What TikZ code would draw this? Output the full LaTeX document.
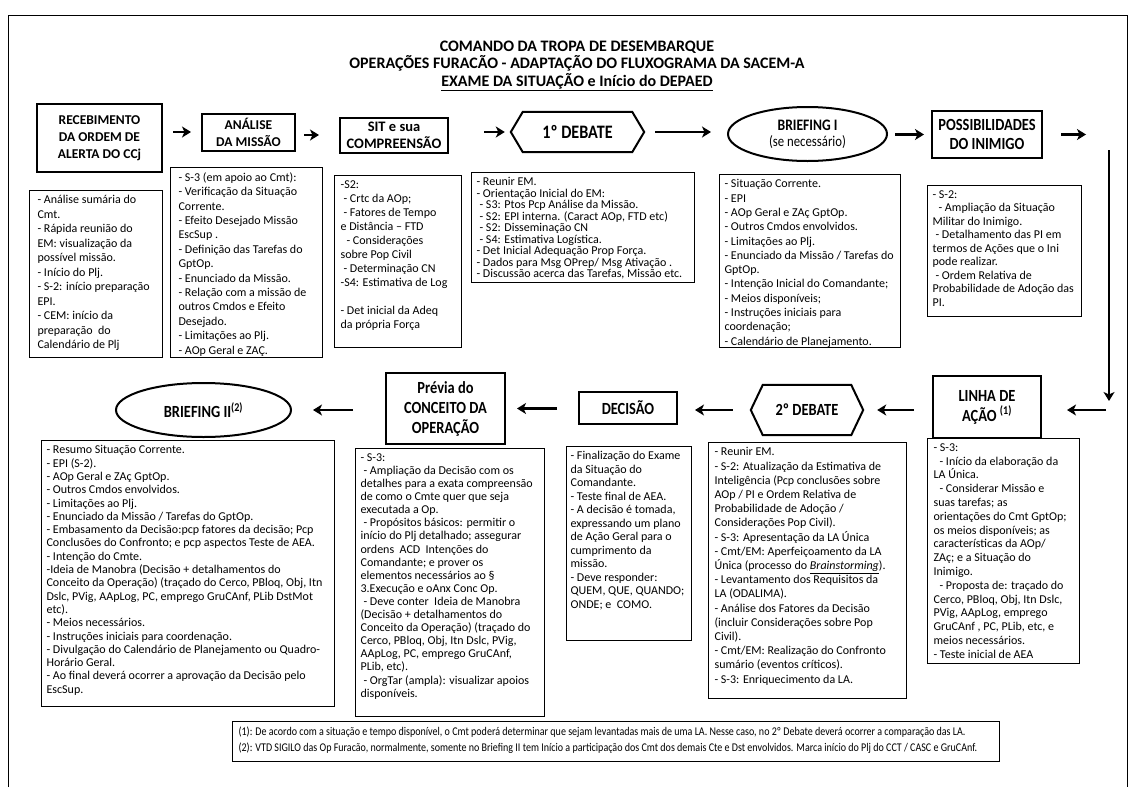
\documentclass[tikz,border=0pt]{standalone}
\usepackage{fontspec}
\setmainfont{Carlito}
\newfontfamily\narrowfam[FakeStretch=0.85]{Carlito}
\usetikzlibrary{arrows.meta,shapes.geometric}

\newcommand\titlefont{\fontsize{16}{17.5}\selectfont\bfseries}
\newcommand\hdrfont{\fontsize{13.5}{17}\selectfont\bfseries}
\newcommand\lowfont{\narrowfam\fontsize{17}{20}\selectfont\bfseries}
\newcommand\bodyfont{\fontsize{12}{13.3}\selectfont}
\newcommand\lsp[1]{\fontsize{12}{#1}\selectfont}
\newcommand\indsp{\hspace*{3pt}}
\newcommand\boxtext[3]{\parbox[t][#2pt][t]{#1pt}{\raggedright #3}}

\tikzset{
  hdr/.style={draw, line width=2pt, align=center, inner sep=0pt, font=\hdrfont},
  low/.style={draw, line width=2pt, align=center, inner sep=0pt, font=\lowfont},
  hexnode/.style={align=center, inner sep=0pt},
  hexline/.style={line width=2pt, line join=miter},
  tbox/.style={draw, line width=1.2pt, inner ysep=5pt, anchor=north west, font=\bodyfont},
  arr/.style={line width=2.6pt, -{Stealth[length=9pt,width=11pt,inset=2.5pt]}},
  frame/.style={line width=1pt},
}

\begin{document}
\begin{tikzpicture}[x=1pt,y=-1pt]
\useasboundingbox (0,0) rectangle (1134,787);
\fill[white] (0,0) rectangle (1134,787);
\draw[frame] (8,787) -- (8,15) -- (1127,15) -- (1127,787);

% title
\node[font=\titlefont, align=center] (title) at (577,66)
  {COMANDO DA TROPA DE DESEMBARQUE\\
   OPERAÇÕES FURACÃO - ADAPTAÇÃO DO FLUXOGRAMA DA SACEM-A\\
   \underline{EXAME DA SITUAÇÃO e Início do DEPAED}};

% ---------- first row of steps ----------
\node[hdr, minimum width=125, minimum height=68] (rec) at (99.5,138)
  {RECEBIMENTO\\DA ORDEM DE\\ALERTA DO CCj};
\node[hdr, minimum width=93, minimum height=37] (ana) at (248.5,132)
  {ANÁLISE\\DA MISSÃO};
\node[hdr, font=\fontsize{14.5}{17}\selectfont\bfseries, minimum width=108, minimum height=35] (sit) at (394,135)
  {SIT e sua\\COMPREENSÃO};
\node[hexnode, font=\narrowfam\fontsize{19}{20}\selectfont\bfseries, minimum width=133, minimum height=40] (deb1) at (577.5,132)
  {1º DEBATE};
\draw[hexline] (deb1.west) -- ([xshift=12pt]deb1.north west) -- ([xshift=-12pt]deb1.north east)
  -- (deb1.east) -- ([xshift=-12pt]deb1.south east) -- ([xshift=12pt]deb1.south west) -- cycle;
\node[ellipse, draw, line width=2pt, inner sep=0pt, minimum width=159, minimum height=54, align=center] (bri1) at (807.5,134)
  {{\narrowfam\fontsize{16}{17}\selectfont\bfseries BRIEFING I}\\[4pt]
   {\narrowfam\fontsize{15}{17}\selectfont (se necessário)}};
\node[hdr, font=\narrowfam\fontsize{17}{19}\selectfont\bfseries, minimum width=110, minimum height=47] (poss) at (987,134.5)
  {POSSIBILIDADES\\DO INIMIGO};

\coordinate (rend) at (1086,134.5);
\coordinate (vtop) at (1109,150);
\coordinate (vbot) at (1109,401);
\coordinate (lstart) at (1106,410);

\draw[arr, shorten <=10pt, shorten >=10pt] (rec.east |- ana.west) -- (ana.west);
\draw[arr, shorten <=8pt, shorten >=20pt] (ana.east |- sit.west) -- (sit.west);
\draw[arr, shorten <=35pt, shorten >=6pt] (sit.east |- deb1.west) -- (deb1.west);
\draw[arr, shorten <=11pt, shorten >=16pt] (deb1.east) -- (deb1.east -| bri1.west);
\draw[arr, shorten <=7pt, shorten >=7pt] (bri1.east |- poss.west) -- (poss.west);
\draw[arr, shorten <=18pt] (poss.east |- rend) -- (rend);
\draw[arr] (vtop) -- (vbot);

% ---------- texts under the first row ----------
\node[tbox, inner xsep=8pt] (t1) at (29,190) {\boxtext{116.8}{156.8}{\lsp{14.5}%
- Análise sumária do\\
Cmt.\\
- Rápida reunião do\\
EM: visualização da\\
possível missão.\\
- Início do Plj.\\
- S-2: início preparação\\
EPI.\\
- CEM: início da\\
preparação\ \ do\\
Calendário de Plj}};

\node[tbox, inner xsep=8pt] (t2) at (170,167) {\boxtext{135.8}{179.8}{\lsp{14.4}%
- S-3 (em apoio ao Cmt):\\
- Verificação da Situação\\
Corrente.\\
- Efeito Desejado Missão\\
EscSup .\\
- Definição das Tarefas do\\
GptOp.\\
- Enunciado da Missão.\\
- Relação com a missão de\\
outros Cmdos e Efeito\\
Desejado.\\
- Limitações ao Plj.\\
- AOp Geral e ZAÇ.}};

\node[tbox, inner xsep=6pt] (t3) at (334,175) {\boxtext{114.8}{161.8}{\lsp{14}%
-S2:\\
\indsp- Crtc da AOp;\\
\indsp- Fatores de Tempo\\
e Distância – FTD\\
\indsp\indsp- Considerações\\
sobre Pop Civil\\
\indsp- Determinação CN\\
-S4: Estimativa de Log\\
\mbox{}\\
- Det inicial da Adeq\\
da própria Força}};

\node[tbox, inner xsep=5pt] (t4) at (471,172) {\boxtext{212.8}{99.8}{\lsp{11.5}%
- Reunir EM.\\
- Orientação Inicial do EM:\\
\indsp- S3: Ptos Pcp Análise da Missão.\\
\indsp- S2: EPI interna. (Caract AOp, FTD etc)\\
\indsp- S2: Disseminação CN\\
\indsp- S4: Estimativa Logística.\\
- Det Inicial Adequação Prop Força.\\
- Dados para Msg OPrep/ Msg Ativação .\\
- Discussão acerca das Tarefas, Missão etc.}};

\node[tbox, inner xsep=5pt] (t5) at (719,174) {\boxtext{170.8}{162.8}{\lsp{14.3}%
- Situação Corrente.\\
- EPI\\
- AOp Geral e ZAç GptOp.\\
- Outros Cmdos envolvidos.\\
- Limitações ao Plj.\\
- Enunciado da Missão / Tarefas do\\
GptOp.\\
- Intenção Inicial do Comandante;\\
- Meios disponíveis;\\
- Instruções iniciais para\\
coordenação;\\
- Calendário de Planejamento.}};

\node[tbox, inner xsep=5pt] (t6) at (927,185) {\boxtext{143.8}{120.8}{\lsp{13.5}%
- S-2:\\
\indsp\indsp- Ampliação da Situação\\
Militar do Inimigo.\\
\indsp- Detalhamento das PI em\\
termos de Ações que o Ini\\
pode realizar.\\
\indsp- Ordem Relativa de\\
Probabilidade de Adoção das\\
PI.}};

% ---------- second row of steps ----------
\node[ellipse, draw, line width=2pt, inner sep=0pt, minimum width=175, minimum height=54, font=\lowfont] (bri2) at (203.5,410)
  {BRIEFING II\textsuperscript{(2)}};
\node[low, minimum width=119, minimum height=71] (prev) at (445.5,408.5)
  {Prévia do\\CONCEITO DA\\OPERAÇÃO};
\node[low, minimum width=98, minimum height=32] (dec) at (628,408)
  {DECISÃO};
\node[hexnode, font=\lowfont, minimum width=112, minimum height=50] (deb2) at (807,410)
  {2º DEBATE};
\draw[hexline] (deb2.west) -- ([xshift=12pt]deb2.north west) -- ([xshift=-12pt]deb2.north east)
  -- (deb2.east) -- ([xshift=-12pt]deb2.south east) -- ([xshift=12pt]deb2.south west) -- cycle;
\node[low, minimum width=108, minimum height=62] (la) at (987,407)
  {LINHA DE\\AÇÃO \textsuperscript{(1)}};

\draw[arr, shorten >=25pt] (lstart) -- (lstart -| la.east);
\draw[arr, shorten <=18pt, shorten >=14pt] (la.west |- deb2.east) -- (deb2.east);
\draw[arr, shorten <=18pt, shorten >=17pt] (deb2.west) -- (deb2.west -| dec.east);
\draw[arr, shorten <=21pt, shorten >=11pt] (dec.west |- prev.east) -- (prev.east);
\draw[arr, shorten <=32pt, shorten >=21pt] (prev.west |- bri2.east) -- (bri2.east);

% ---------- texts under the second row ----------
\node[tbox, inner xsep=5pt] (t7) at (41,440) {\boxtext{282.8}{255.8}{\lsp{13.3}%
- Resumo Situação Corrente.\\
- EPI (S-2).\\
- AOp Geral e ZAç GptOp.\\
- Outros Cmdos envolvidos.\\
- Limitações ao Plj.\\
- Enunciado da Missão / Tarefas do GptOp.\\
- Embasamento da Decisão:pcp fatores da decisão; Pcp\\
Conclusões do Confronto; e pcp aspectos Teste de AEA.\\
- Intenção do Cmte.\\
-Ideia de Manobra (Decisão + detalhamentos do\\
Conceito da Operação) (traçado do Cerco, PBloq, Obj, Itn\\
Dslc, PVig, AApLog, PC, emprego GruCAnf, PLib DstMot\\
etc).\\
- Meios necessários.\\
- Instruções iniciais para coordenação.\\
- Divulgação do Calendário de Planejamento ou Quadro-\\
Horário Geral.\\
- Ao final deverá ocorrer a aprovação da Decisão pelo\\
EscSup.}};

\node[tbox, inner xsep=5pt] (t8) at (355,448) {\boxtext{178.8}{257.8}{\lsp{13.1}%
- S-3:\\
\indsp- Ampliação da Decisão com os\\
detalhes para a exata compreensão\\
de como o Cmte quer que seja\\
executada a Op.\\
\indsp- Propósitos básicos: permitir o\\
início do Plj detalhado; assegurar\\
ordens\ \ ACD\ \ Intenções do\\
Comandante; e prover os\\
elementos necessários ao §\\
3.Execução e oAnx Conc Op.\\
\indsp- Deve conter\ \ Ideia de Manobra\\
(Decisão + detalhamentos do\\
Conceito da Operação) (traçado do\\
Cerco, PBloq, Obj, Itn Dslc, PVig,\\
AApLog, PC, emprego GruCAnf,\\
PLib, etc).\\
\indsp- OrgTar (ampla): visualizar apoios\\
disponíveis.}};

\node[tbox, inner xsep=4pt] (t9) at (566,446) {\boxtext{116.8}{183.8}{\lsp{13.5}%
- Finalização do Exame\\
da Situação do\\
Comandante.\\
- Teste final de AEA.\\
- A decisão é tomada,\\
expressando um plano\\
de Ação Geral para o\\
cumprimento da\\
missão.\\
- Deve responder:\\
QUEM, QUE, QUANDO;\\
ONDE; e\ \ COMO.}};

\node[tbox, inner xsep=6pt] (t10) at (708,442) {\boxtext{185.8}{245.8}{\lsp{14.2}%
- Reunir EM.\\
- S-2: Atualização da Estimativa de\\
Inteligência (Pcp conclusões sobre\\
AOp / PI e Ordem Relativa de\\
Probabilidade de Adoção /\\
Considerações Pop Civil).\\
- S-3: Apresentação da LA Única\\
- Cmt/EM: Aperfeiçoamento da LA\\
Única (processo do \underline{\textit{Brainstorming}}).\\
- Levantamento dos Requisitos da\\
LA (ODALIMA).\\
- Análise dos Fatores da Decisão\\
(incluir Considerações sobre Pop\\
Civil).\\
- Cmt/EM: Realização do Confronto\\
sumário (eventos críticos).\\
- S-3: Enriquecimento da LA.}};

\node[tbox, inner xsep=6pt] (t12) at (927,438) {\boxtext{139.8}{214.8}{\lsp{13.8}%
- S-3:\\
\indsp\indsp- Início da elaboração da\\
LA Única.\\
\indsp\indsp- Considerar Missão e\\
suas tarefas; as\\
orientações do Cmt GptOp;\\
os meios disponíveis; as\\
características da AOp/\\
ZAç; e a Situação do\\
Inimigo.\\
\indsp\indsp- Proposta de: traçado do\\
Cerco, PBloq, Obj, Itn Dslc,\\
PVig, AApLog, emprego\\
GruCAnf , PC, PLib, etc, e\\
meios necessários.\\
- Teste inicial de AEA}};

% ---------- notes ----------
\node[tbox, inner xsep=6pt, font=\narrowfam\fontsize{11.8}{16}\selectfont] (notes) at (232,721)
  {\boxtext{754.8}{29.8}{%
(1): De acordo com a situação e tempo disponível, o Cmt poderá determinar que sejam levantadas mais de uma LA. Nesse caso, no 2º Debate deverá ocorrer a comparação das LA.\\
(2): VTD SIGILO das Op Furacão, normalmente, somente no Briefing II tem Início a participação dos Cmt dos demais Cte e Dst envolvidos. Marca início do Plj do CCT / CASC e GruCAnf.}};
\end{tikzpicture}
\end{document}
